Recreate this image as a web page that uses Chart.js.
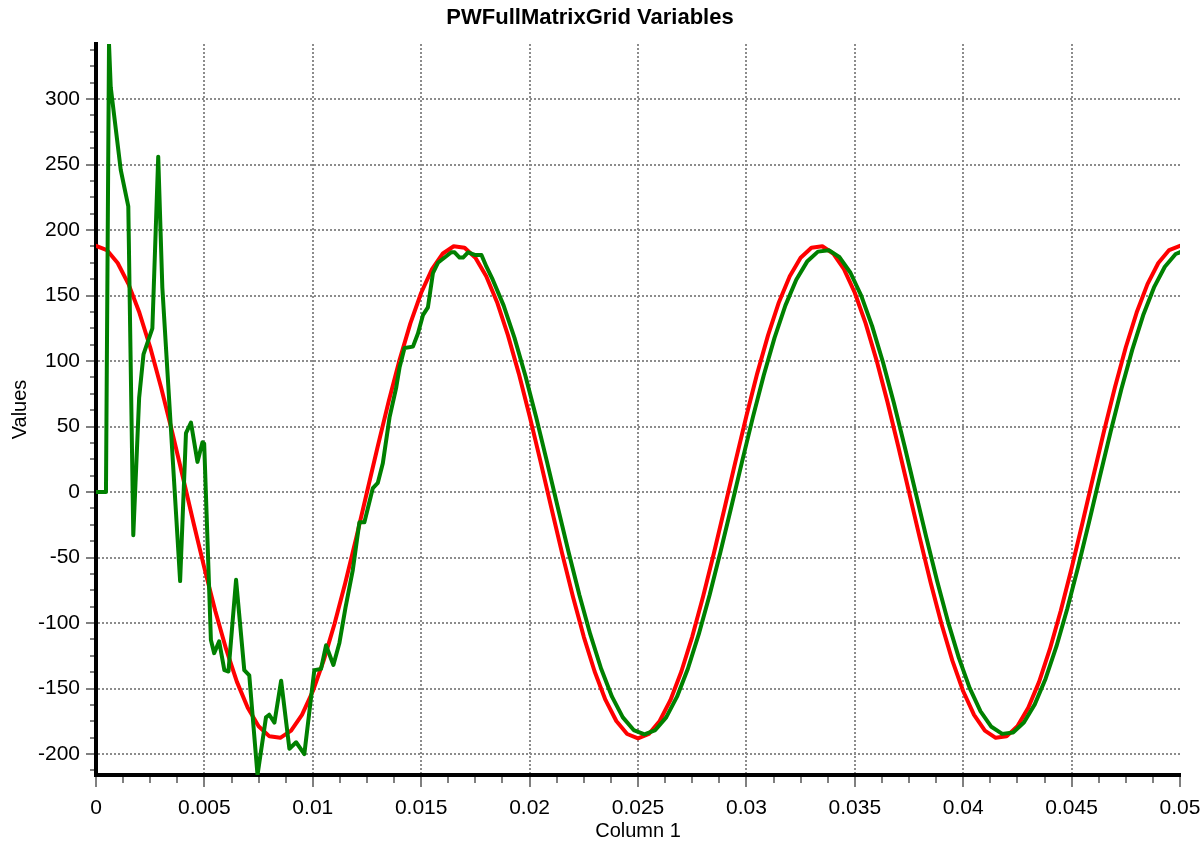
<!DOCTYPE html>
<html>
<head>
<meta charset="utf-8">
<title>PWFullMatrixGrid Variables</title>
<script src="https://cdn.jsdelivr.net/npm/chart.js@4.4.0/dist/chart.umd.min.js"></script>
<style>
  html, body { margin: 0; padding: 0; background: #fff; }
  canvas { display: block; }
</style>
</head>
<body>
<canvas id="gridChart" width="1201" height="845"></canvas>
<script>
// sample times (s) and values for the two traces
const redTime = [
  0, 0.0005, 0.001, 0.0015, 0.002, 0.0025, 0.003, 0.0035, 0.004, 0.0045,
  0.005, 0.0055, 0.006, 0.0065, 0.007, 0.0075, 0.008, 0.0085, 0.009, 0.0095,
  0.01, 0.0105, 0.011, 0.0115, 0.012, 0.0125, 0.013, 0.0135, 0.014, 0.0145,
  0.015, 0.0155, 0.016, 0.0165, 0.017, 0.0175, 0.018, 0.0185, 0.019, 0.0195,
  0.02, 0.0205, 0.021, 0.0215, 0.022, 0.0225, 0.023, 0.0235, 0.024, 0.0245,
  0.025, 0.0255, 0.026, 0.0265, 0.027, 0.0275, 0.028, 0.0285, 0.029, 0.0295,
  0.03, 0.0305, 0.031, 0.0315, 0.032, 0.0325, 0.033, 0.0335, 0.034, 0.0345,
  0.035, 0.0355, 0.036, 0.0365, 0.037, 0.0375, 0.038, 0.0385, 0.039, 0.0395,
  0.04, 0.0405, 0.041, 0.0415, 0.042, 0.0425, 0.043, 0.0435, 0.044, 0.0445,
  0.045, 0.0455, 0.046, 0.0465, 0.047, 0.0475, 0.048, 0.0485, 0.049, 0.0495,
  0.05
];
const redValues = [
  188, 184.7, 174.8, 158.7, 137.0, 110.5, 80.0, 46.8, 11.8, -23.6,
  -58.1, -90.6, -119.8, -144.9, -164.7, -178.8, -186.5, -187.6, -182.1, -170.1,
  -152.1, -128.7, -100.7, -69.2, -35.2, 0, 35.2, 69.2, 100.7, 128.7,
  152.1, 170.1, 182.1, 187.6, 186.5, 178.8, 164.7, 144.9, 119.8, 90.6,
  58.1, 23.6, -11.8, -46.8, -80.0, -110.5, -137.0, -158.7, -174.8, -184.7,
  -188.0, -184.7, -174.8, -158.7, -137.0, -110.5, -80.0, -46.8, -11.8, 23.6,
  58.1, 90.6, 119.8, 144.9, 164.7, 178.8, 186.5, 187.6, 182.1, 170.1,
  152.1, 128.7, 100.7, 69.2, 35.2, 0, -35.2, -69.2, -100.7, -128.7,
  -152.1, -170.1, -182.1, -187.6, -186.5, -178.8, -164.7, -144.9, -119.8, -90.6,
  -58.1, -23.6, 11.8, 46.8, 80.0, 110.5, 137.0, 158.7, 174.8, 184.7,
  188.0
];

const greenTime = [
  0, 0.00046, 0.0006, 0.00068, 0.00114, 0.00149, 0.00172, 0.00199, 0.00219, 0.0026,
  0.00287, 0.00306, 0.00376, 0.00388, 0.00415, 0.00438, 0.00468, 0.00491, 0.00499, 0.0053,
  0.00545, 0.00568, 0.00592, 0.00611, 0.00646, 0.00684, 0.00707, 0.00745, 0.00784, 0.00799,
  0.00823, 0.00854, 0.00892, 0.00923, 0.00961, 0.01007, 0.01038, 0.01061, 0.01095, 0.01123,
  0.01151, 0.01184, 0.01215, 0.01238, 0.01277, 0.013, 0.01323, 0.01354, 0.01385, 0.014,
  0.01423, 0.01462, 0.01485, 0.01508, 0.01531, 0.01554, 0.01577, 0.01608, 0.01639, 0.01654,
  0.01677, 0.01693, 0.01716, 0.01747, 0.01778, 0.01801,
  0.0183, 0.0188, 0.0193, 0.0198, 0.0203, 0.0208, 0.0213, 0.0218, 0.0223, 0.0228,
  0.0233, 0.0238, 0.0243, 0.0248, 0.0253, 0.0258, 0.0263, 0.0268, 0.0273, 0.0278,
  0.0283, 0.0288, 0.0293, 0.0298, 0.0303, 0.0308, 0.0313, 0.0318, 0.0323, 0.0328,
  0.0333, 0.0338, 0.0343, 0.0348, 0.0353, 0.0358, 0.0363, 0.0368, 0.0373, 0.0378,
  0.0383, 0.0388, 0.0393, 0.0398, 0.0403, 0.0408, 0.0413, 0.0418, 0.0423, 0.0428,
  0.0433, 0.0438, 0.0443, 0.0448, 0.0453, 0.0458, 0.0463, 0.0468, 0.0473, 0.0478,
  0.0483, 0.0488, 0.0493, 0.0498, 0.0503
];
const greenValues = [
  0, 0, 342, 309, 246, 218, -33, 72, 105, 125,
  256, 156, -35, -68, 45, 53, 23, 38, 37, -113,
  -123, -114, -136, -137, -67, -136, -140, -216, -172, -170,
  -176, -144, -196, -191, -200, -136, -135, -117, -132, -115,
  -88, -60, -23, -23, 3, 7, 22, 57, 80, 95,
  110, 111, 121, 135, 141, 167, 175, 179, 183, 183,
  179, 179, 183, 181, 181, 172,
  162.1, 142.5, 117.9, 89.1, 57.2, 23.2, -11.6, -46.0, -78.8, -108.7,
  -134.9, -156.2, -172.0, -181.7, -185.0, -181.7, -172.0, -156.2, -134.9, -108.7,
  -78.8, -46.0, -11.6, 23.2, 57.2, 89.1, 117.9, 142.5, 162.1, 175.9,
  183.5, 184.6, 179.2, 167.4, 149.7, 126.6, 99.1, 68.1, 34.7, 0,
  -34.7, -68.1, -99.1, -126.6, -149.7, -167.4, -179.2, -184.6, -183.5, -175.9,
  -162.1, -142.5, -117.9, -89.1, -57.2, -23.2, 11.6, 46.0, 78.8, 108.7,
  134.9, 156.2, 172.0, 181.7, 185.0
];

const xTickValues = [0, 0.005, 0.01, 0.015, 0.02, 0.025, 0.03, 0.035, 0.04, 0.045, 0.05];
const yTickValues = [-200, -150, -100, -50, 0, 50, 100, 150, 200, 250, 300];

const FONT = '"Liberation Sans", Arial, sans-serif';
const GRID_GREY = '#8c8c8c';
const TICK_GREY = '#808080';

function toPoints(xs, ys) {
  return xs.map((x, i) => ({ x: x, y: ys[i] }));
}

// short unlabeled ticks between the major ones (4 per interval)
const minorTicks = {
  id: 'minorTicks',
  afterDraw(chart) {
    const { ctx, chartArea } = chart;
    const xs = chart.scales.x, ys = chart.scales.y;
    ctx.save();
    ctx.strokeStyle = TICK_GREY;
    ctx.lineWidth = 2;
    ctx.beginPath();
    for (let i = 1; i < 40; i++) {
      if (i % 4 === 0) continue;
      const px = Math.round(xs.getPixelForValue(i * 0.00125));
      ctx.moveTo(px, chartArea.bottom + 2);
      ctx.lineTo(px, chartArea.bottom + 8);
    }
    for (let i = -17; i <= 27; i++) {
      if (i % 4 === 0) continue;
      const py = Math.round(ys.getPixelForValue(i * 12.5));
      if (py < chartArea.top || py > chartArea.bottom) continue;
      ctx.moveTo(chartArea.left - 2, py);
      ctx.lineTo(chartArea.left - 6, py);
    }
    ctx.stroke();
    ctx.restore();
  }
};

new Chart(document.getElementById('gridChart').getContext('2d'), {
  type: 'line',
  data: {
    datasets: [
      {
        label: 'green',
        data: toPoints(greenTime, greenValues),
        borderColor: '#008000',
        borderWidth: 4
      },
      {
        label: 'red',
        data: toPoints(redTime, redValues),
        borderColor: '#ff0000',
        borderWidth: 4
      }
    ]
  },
  options: {
    responsive: false,
    animation: false,
    layout: { padding: { left: 0, right: 21, top: 0, bottom: 0 } },
    elements: {
      point: { radius: 0 },
      line: { tension: 0, borderCapStyle: 'round', borderJoinStyle: 'round' }
    },
    plugins: {
      legend: { display: false },
      tooltip: { enabled: false },
      title: {
        display: true,
        text: 'PWFullMatrixGrid Variables',
        color: '#000',
        font: { family: FONT, size: 22, weight: 'bold', lineHeight: 1.2 },
        padding: { top: 5, bottom: 12.6 }
      }
    },
    scales: {
      x: {
        type: 'linear',
        min: 0,
        max: 0.05,
        afterBuildTicks: s => { s.ticks = xTickValues.map(v => ({ value: v })); },
        afterFit: s => { s.height = 70; s.paddingLeft = 0; s.paddingRight = 0; },
        grid: {
          color: c => (c.index === xTickValues.length - 1 ? 'rgba(0,0,0,0)' : GRID_GREY),
          lineWidth: 2,
          tickLength: 12,
          tickColor: TICK_GREY,
          tickWidth: 2
        },
        border: { display: true, color: '#000', width: 4, dash: [2, 2] },
        ticks: {
          color: '#000',
          font: { family: FONT, size: 21 },
          padding: 9,
          maxRotation: 0,
          autoSkip: false,
          callback: v => String(Number(v.toFixed(3)))
        },
        title: {
          display: true,
          text: 'Column 1',
          color: '#000',
          font: { family: FONT, size: 20, lineHeight: 1.2 },
          padding: { top: 0, bottom: 2 }
        }
      },
      y: {
        type: 'linear',
        min: -216,
        max: 342,
        afterBuildTicks: s => { s.ticks = yTickValues.map(v => ({ value: v })); },
        afterFit: s => { s.width = 96; },
        grid: {
          color: GRID_GREY,
          lineWidth: 2,
          tickLength: 10,
          tickColor: TICK_GREY,
          tickWidth: 2
        },
        border: { display: true, color: '#000', width: 4, dash: [2, 2] },
        ticks: {
          color: '#000',
          font: { family: FONT, size: 21 },
          padding: 6,
          autoSkip: false,
          callback: v => String(v)
        },
        title: {
          display: true,
          text: 'Values',
          color: '#000',
          font: { family: FONT, size: 20, lineHeight: 1.2 },
          padding: { top: 8, bottom: 0 }
        }
      }
    }
  },
  plugins: [minorTicks]
});
</script>
</body>
</html>
